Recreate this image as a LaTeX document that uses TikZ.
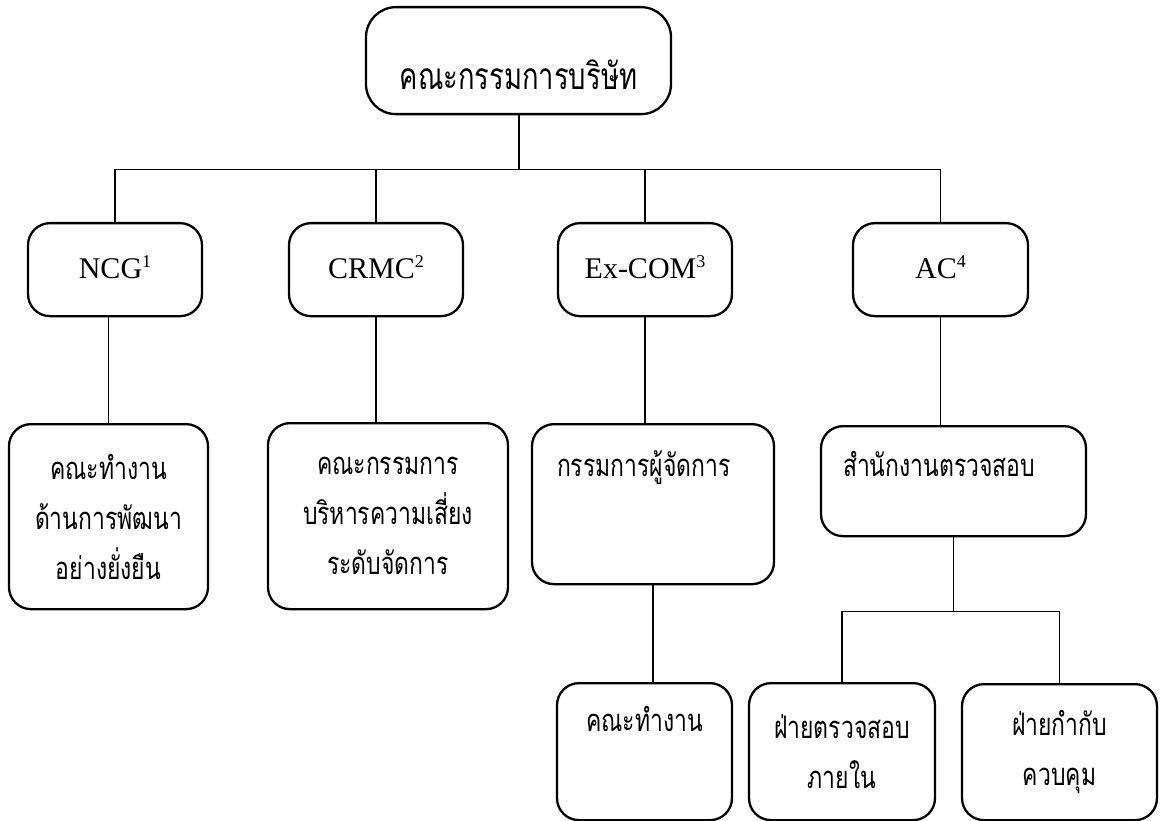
\documentclass[tikz,border=0pt]{standalone}
\usepackage{fontspec}
\setmainfont{Liberation Serif}
\newfontfamily\thaifont[Script=Thai, FakeStretch=0.74]{Loma}
\newcommand{\thaibig}{\thaifont\fontsize{37}{44}\selectfont}
\newcommand{\thaitxt}{\thaifont\fontsize{31}{50}\selectfont}
\newcommand{\latintxt}{\fontsize{30}{36}\selectfont}
\newcommand{\fnum}[1]{\raisebox{11pt}{\fontsize{18}{18}\selectfont #1}}

\begin{document}
\begin{tikzpicture}[x=1pt, y=-1pt,
  box/.style={draw, rounded corners=22pt, line width=2.3pt, inner sep=0pt, anchor=north},
  link/.style={line width=1.3pt}]
\useasboundingbox (0,0) rectangle (1165,821);
\node[box, rounded corners=30pt, minimum width=305pt, text height=82pt, text depth=25pt, font=\thaibig] (board) at (518.5,6) {คณะกรรมการบริษัท};
\node[box, minimum width=174pt, text height=55pt, text depth=38pt, font=\latintxt] (ncg) at (115,222) {NCG\fnum{1}};
\node[box, minimum width=174pt, text height=55pt, text depth=38pt, font=\latintxt] (crmc) at (376,222) {CRMC\fnum{2}};
\node[box, minimum width=174pt, text height=55pt, text depth=38pt, font=\latintxt] (excom) at (645,222) {Ex-COM\fnum{3}};
\node[box, minimum width=175pt, text height=55pt, text depth=38pt, font=\latintxt] (ac) at (940.5,222) {AC\fnum{4}};
\node[box, minimum width=199pt, minimum height=185pt, align=center, font=\thaitxt] (sus) at (108.5,423) {คณะทำงาน\\ด้านการพัฒนา\\อย่างยั่งยืน};
\node[box, minimum width=240pt, minimum height=186pt, align=center, font=\thaitxt] (risk) at (388,422) {คณะกรรมการ\\บริหารความเสี่ยง\\ระดับจัดการ};
\node[box, inner xsep=25pt, text width=192pt, align=left, text height=52pt, text depth=108pt, font=\thaitxt] (mgr) at (653,423) {กรรมการผู้จัดการ};
\node[box, inner xsep=22pt, text width=221pt, align=left, text height=50pt, text depth=60pt, font=\thaitxt] (office) at (953.5,425) {สำนักงานตรวจสอบ};
\node[box, minimum width=175pt, text height=48pt, text depth=89pt, font=\thaitxt] (wg) at (644.5,682) {คณะทำงาน};
\node[box, minimum width=186pt, minimum height=137pt, align=center, font=\thaitxt] (ia) at (842,682) {ฝ่ายตรวจสอบ\\ภายใน};
\node[box, minimum width=195pt, minimum height=136pt, align=center, font=\thaitxt] (comp) at (1059.5,683) {ฝ่ายกำกับ\\ควบคุม};
\coordinate (bus) at ([yshift=-54pt]board.south);
\coordinate (split) at ([yshift=-74pt]office.south);
\draw[link, line width=2pt] (board) -- (bus);
\draw[link] (bus) -| (ncg);
\draw[link] (bus) -| (crmc);
\draw[link] (bus) -| (excom);
\draw[link] (bus) -| (ac);
\draw[link] (sus.north) -- (sus.north |- ncg.south);
\draw[link] (crmc) -- (crmc |- risk.north);
\draw[link] (excom) -- (excom |- mgr.north);
\draw[link] (mgr) -- (mgr |- wg.north);
\draw[link] (ac) -- (ac |- office.north);
\draw[link] (office) -- (split);
\draw[link] (split) -| (ia);
\draw[link] (split) -| (comp);
\end{tikzpicture}
\end{document}
